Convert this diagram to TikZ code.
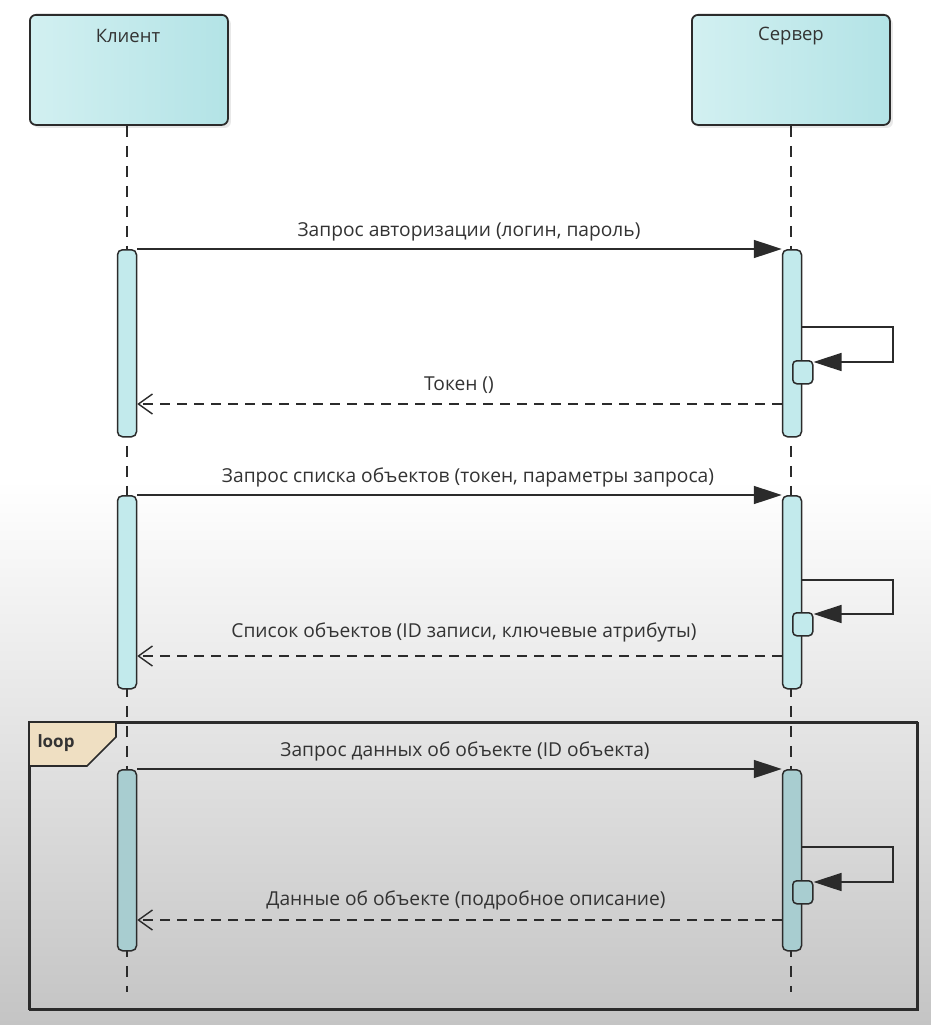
\documentclass[tikz,border=0pt]{standalone}
\usepackage{fontspec}
\setmainfont{Open Sans}
\usetikzlibrary{arrows.meta,shadows}
\definecolor{bgtop}{HTML}{FFFFFF}
\definecolor{bgbot}{HTML}{C4C4C4}
\definecolor{boxL}{HTML}{D2F0F1}
\definecolor{boxR}{HTML}{B3E3E6}
\definecolor{actfill}{HTML}{C2EAEC}
\definecolor{actfillB}{HTML}{A8CDD0}
\definecolor{linec}{HTML}{2B2B2B}
\definecolor{txt}{HTML}{333333}
\definecolor{loopfill}{HTML}{EFDFC2}
\tikzset{
  header/.style={draw=linec, line width=1.8pt, rounded corners=6pt, left color=boxL, right color=boxR,
    minimum width=198pt, minimum height=110pt, inner sep=0pt,
    drop shadow={shadow xshift=3pt, shadow yshift=-3pt, opacity=0.18}},
  htext/.style={font=\fontsize{18.5}{20}\selectfont, text=txt},
  lifeline/.style={draw=linec, line width=1.5pt, dash pattern=on 11pt off 9pt},
  act/.style={draw=linec, line width=1.5pt, rounded corners=5pt, fill=actfill, minimum width=19pt, inner sep=0pt},
  actB/.style={act, fill=actfillB},
  small/.style={draw=linec, line width=1.5pt, rounded corners=4pt, fill=actfill, minimum width=20pt, minimum height=23pt, inner sep=0pt},
  smallB/.style={small, fill=actfillB},
  msg/.style={draw=linec, line width=1.6pt, -{Triangle[length=28pt,width=18pt]}},
  ret/.style={draw=linec, line width=1.6pt, dash pattern=on 10pt off 7pt, -{Straight Barb[length=14pt,width=20pt,line width=1.4pt]}},
  self/.style={draw=linec, line width=1.6pt, -{Triangle[length=28pt,width=18pt]}},
  lbl/.style={font=\fontsize{19.2}{21}\selectfont, text=txt, inner sep=0pt}
}
\begin{document}
\begin{tikzpicture}[x=1pt,y=-1pt]
\useasboundingbox (0,0) rectangle (931,1025);
\fill[bgtop] (0,0) rectangle (931,480);
\shade[top color=bgtop, bottom color=bgbot] (0,480) rectangle (931,1025);

% headers
\node[header, anchor=north west] (client) at (29,14) {};
\node[header, anchor=north west] (server) at (691,14) {};
\node[htext] (clientT) at (128,36) {Клиент};
\node[htext] (serverT) at (791,36) {Сервер};

% lifelines
\coordinate (cEnd) at (127,992);
\coordinate (sEnd) at (791,992);
\draw[lifeline] (client.south -| cEnd) -- (cEnd);
\draw[lifeline] (server.south -| sEnd) -- (sEnd);

% loop frame
\node[draw=linec, line width=2pt, minimum width=888pt, minimum height=287pt, anchor=north west, inner sep=0pt] (frame) at (29,722) {};
\draw[linec, line width=1.6pt, fill=loopfill] (29,722) -- (116,722) -- (116,737) -- (87,766) -- (29,766) -- cycle;
\node[font=\fontsize{17}{19}\selectfont\bfseries, text=txt, anchor=west] (loopT) at (34,743) {loop};
\draw[linec, line width=2pt] (29,722) rectangle (917,1009);

% activations block 1
\node[act, anchor=north, minimum height=187pt] (ca1) at (127,249) {};
\node[act, anchor=north, minimum height=187pt] (sa1) at (792,249) {};
\node[small, anchor=north west] (ss1) at (792,360) {};
% activations block 2
\node[act, anchor=north, minimum height=193pt] (ca2) at (127,495) {};
\node[act, anchor=north, minimum height=193pt] (sa2) at (792,495) {};
\node[small, anchor=north west] (ss2) at (792,612) {};
% activations block 3
\node[actB, anchor=north, minimum height=181pt] (ca3) at (127,769) {};
\node[actB, anchor=north, minimum height=181pt] (sa3) at (792,769) {};
\node[smallB, anchor=north west] (ss3) at (792,880) {};

% messages 1
\draw[msg] (ca1.north east) -- (sa1.north west);
\node[lbl] (m1) at (469,232) {Запрос авторизации (логин, пароль)};
\coordinate (s1a) at (893,327);
\coordinate (s1b) at (893,362);
\draw[self] (sa1.east |- s1a) -- (s1a) -- (s1b) -- (ss1.east |- s1b);
\coordinate (r1) at (0,404);
\draw[ret] (sa1.west |- r1) -- (ca1.east |- r1);
\node[lbl] (m1r) at (459,385) {Токен ()};

% messages 2
\draw[msg] (ca2.north east) -- (sa2.north west);
\node[lbl] (m2) at (468,477) {Запрос списка объектов (токен, параметры запроса)};
\coordinate (s2a) at (893,580);
\coordinate (s2b) at (893,614);
\draw[self] (sa2.east |- s2a) -- (s2a) -- (s2b) -- (ss2.east |- s2b);
\coordinate (r2) at (0,656);
\draw[ret] (sa2.west |- r2) -- (ca2.east |- r2);
\node[lbl] (m2r) at (464,632) {Список объектов (ID записи, ключевые атрибуты)};

% messages 3
\draw[msg] (ca3.north east) -- (sa3.north west);
\node[lbl] (m3) at (465,751) {Запрос данных об объекте (ID объекта)};
\coordinate (s3a) at (893,847);
\coordinate (s3b) at (893,882);
\draw[self] (sa3.east |- s3a) -- (s3a) -- (s3b) -- (ss3.east |- s3b);
\coordinate (r3) at (0,920);
\draw[ret] (sa3.west |- r3) -- (ca3.east |- r3);
\node[lbl] (m3r) at (466,900) {Данные об объекте (подробное описание)};
\end{tikzpicture}
\end{document}
